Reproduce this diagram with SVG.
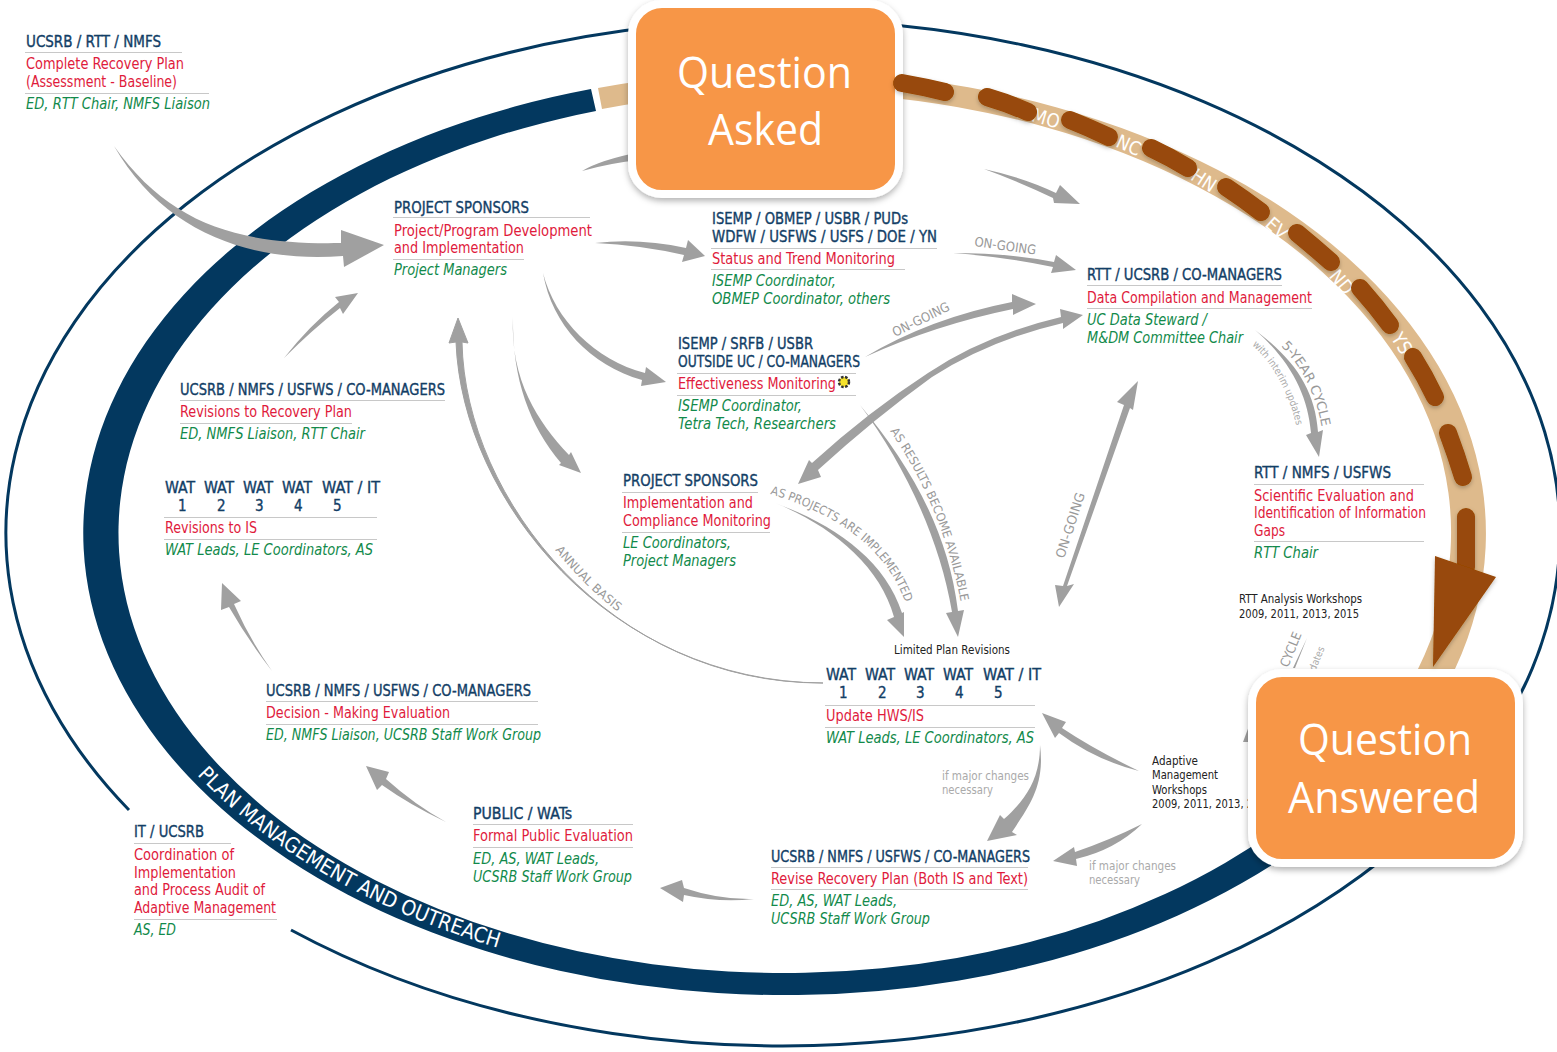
<svg xmlns="http://www.w3.org/2000/svg" width="1557" height="1052" viewBox="0 0 1557 1052">
<style>
text{font-family:"DejaVu Sans","Liberation Sans",sans-serif;font-stretch:condensed}
.h{font-size:15px;fill:#123e66;stroke:#123e66;stroke-width:.35px}
.r{font-size:15px;fill:#e01b3c}
.g{font-size:15px;fill:#128a4b;font-style:italic}
.h,.r,.g{transform:translateY(.3px)}
.k{font-size:12px;fill:#222}
.m{font-size:12px;fill:#aaa}
.l{font-size:13px;fill:#999}
.s{font-size:10px;fill:#aaa}
.c{font-size:12px;fill:#999}
.t{font-size:19px;fill:#fff;text-anchor:middle;dominant-baseline:central}
.q{font-family:"Open Sans","Noto Sans",sans-serif;font-stretch:normal;font-size:44px;fill:#fff}
.rule{stroke:#c8c8c8;stroke-width:1;fill:none}
.a{fill:#a0a0a0;stroke:none}
.d{fill:none;stroke:#984807;stroke-width:18;stroke-linecap:round}
.box{fill:#f79646;stroke:#fff;stroke-width:8}
</style>
<defs>
<filter id="sh" x="-10%" y="-10%" width="120%" height="125%"><feDropShadow dx="0" dy="3" stdDeviation="3" flood-color="#000" flood-opacity=".3"/></filter>
<filter id="sh2" x="-30%" y="-30%" width="160%" height="160%"><feDropShadow dx="0" dy="2" stdDeviation="2" flood-color="#000" flood-opacity=".25"/></filter>
<path id="p-plan" d="M197,775A694 456 0 0 0 560,964"/>
<path id="p-5y" d="M1281,346Q1313,378 1322,428L1328,460"/>
<path id="p-int" d="M1252,345Q1285,375 1297,428L1302,450"/>
<path id="p-res" d="M890,431Q942,505 961,603L966,640"/>
<path id="p-prj" d="M770,494Q878,526 905,602L912,640"/>
<path id="p-ann" d="M555,550Q585,587 622,615L640,628"/>
</defs>
<rect width="1557" height="1052" fill="#fff"/>

<g id="bands">
<path d="M129,810A777 513 0 1 1 291,930" fill="none" stroke="#03385f" stroke-width="3"/>
<path d="M591,89A701 462 0 1 0 1300,846L1280,827A666 440 0 1 1 596,111Z" fill="#03385f"/>
<path d="M598,88A701 462 0 0 1 1455,669L1418,669A666 440 0 0 0 602,109Z" fill="#deba8c"/>
<g id="band-letters">
<text transform="translate(1046,118) rotate(16)" class="t">MO</text>
<text transform="translate(1129,145) rotate(24)" class="t">NC</text>
<text transform="translate(1204,180) rotate(33)" class="t">HN</text>
<text transform="translate(1277,228) rotate(42)" class="t">EV</text>
<text transform="translate(1342,282) rotate(50)" class="t">ND</text>
<text transform="translate(1402,343) rotate(58)" class="t">YS</text>
</g>
<text fill="#fff" style="font-size:21px"><textPath href="#p-plan">PLAN MANAGEMENT AND OUTREACH</textPath></text>
</g>

<g id="connectors">
<path class="a" d="M114,146C170,225 240,245 341,243L341,230L384,245L344,267L343,256C255,263 165,235 114,146Z"/>
<path class="a" d="M284,358Q310,325 339,302L335,297L358,293L343,314L340,308Q312,330 284,358Z"/>
<path class="a" d="M582,171Q600,160 640,152L640,160Q610,163 582,171Z"/>
<path class="a" d="M984,169Q1025,178 1056,193L1060,185L1080,204L1054,203L1053,198Q1020,182 984,169Z"/>
<path class="a" d="M595,243Q640,238 686,248L688,240L705,256L682,262L684,255Q640,245 595,243Z"/>
<path class="a" d="M953,253Q1010,253 1054,262L1056,255L1076,270L1051,273L1053,267Q1005,257 953,253Z"/>
<path class="a" d="M865,357Q930,318 1012,302L1012,294L1036,304L1013,315L1013,309Q935,325 865,357Z"/>
<path class="a" d="M1083,315L1060,309L1061,317Q985,335 928,373Q868,412 812,463L809,460L798,484L821,477L818,470Q875,418 932,377Q990,340 1063,323L1063,329Z"/>
<path class="a" d="M860,405C905,465 940,540 952,612L946,613L958,637L964,610L958,611C948,530 910,465 860,405Z"/>
<path class="a" d="M775,503C830,525 880,565 894,617L887,620L904,637L904,612L902,613C885,560 835,525 775,503Z"/>
<path class="a" style="stroke:#a0a0a0;stroke-width:1" d="M458,318L449,343L456,342C462,500 610,682 823,683C612,684 465,500 462,342L468,343Z"/>
<path class="a" d="M1255,330C1290,360 1308,395 1311,433L1306,435L1319,457L1323,430L1318,432C1315,390 1295,360 1255,330Z"/>
<path class="a" d="M1138,381L1117,402L1124,405L1063,586L1055,585L1059,607L1074,584L1067,586L1130,408L1133,410Z"/>
<path class="a" d="M272,671Q248,640 229,607L221,610L222,583L241,601L234,604Q250,640 272,671Z"/>
<path class="a" d="M446,822Q415,805 386,779L389,772L366,766L377,790L382,785Q410,805 446,822Z"/>
<path class="a" d="M754,899Q720,900 684,888L682,880L660,888L683,902L684,895Q720,903 754,899Z"/>
<path class="a" d="M1040,745C1045,785 1030,805 1012,832L1017,835L987,841L1000,815L1004,819C1025,800 1040,780 1040,745Z"/>
<path class="a" d="M1139,771Q1095,750 1062,728L1066,722L1042,713L1055,738L1059,733Q1095,760 1139,771Z"/>
<path class="a" d="M1142,824Q1110,840 1075,852L1074,847L1053,861L1077,866L1076,859Q1115,850 1142,824Z"/>
<path class="a" d="M543,273C555,320 595,360 645,373L646,367L666,382L641,386L642,380C590,365 552,325 543,273Z"/>
<path class="a" d="M513,317C510,380 538,422 569,455L571,452L581,473L559,465L561,463C530,426 512,380 513,317Z"/>
<path class="a" d="M1307,638L1293,668L1295,668Z"/>
<path class="a" d="M1243,742L1249,726L1252,742Z"/>
<text class="l" transform="translate(974,246) rotate(8)" textLength="62" lengthAdjust="spacingAndGlyphs">ON-GOING</text>
<text class="l" transform="translate(895,337) rotate(-26)" textLength="62" lengthAdjust="spacingAndGlyphs">ON-GOING</text>
<text class="l" transform="translate(1064,559) rotate(-72)" textLength="68" lengthAdjust="spacingAndGlyphs">ON-GOING</text>
<text class="l" textLength="92" lengthAdjust="spacingAndGlyphs"><textPath href="#p-5y">5-YEAR CYCLE</textPath></text>
<text class="s"><textPath href="#p-int">with interim updates</textPath></text>
<text class="c" textLength="186" lengthAdjust="spacingAndGlyphs"><textPath href="#p-res">AS RESULTS BECOME AVAILABLE</textPath></text>
<text class="c" textLength="180" lengthAdjust="spacingAndGlyphs"><textPath href="#p-prj">AS PROJECTS ARE IMPLEMENTED</textPath></text>
<text class="c" textLength="88" lengthAdjust="spacingAndGlyphs"><textPath href="#p-ann">ANNUAL BASIS</textPath></text>
<text class="l" transform="translate(1288,668) rotate(-68)">CYCLE</text>
<text class="s" transform="translate(1311,682) rotate(-68)">updates</text>
<text class="m" x="942" y="780" textLength="87" lengthAdjust="spacingAndGlyphs">if major changes</text>
<text class="m" x="942" y="794" textLength="51" lengthAdjust="spacingAndGlyphs">necessary</text>
<text class="m" x="1089" y="870" textLength="87" lengthAdjust="spacingAndGlyphs">if major changes</text>
<text class="m" x="1089" y="884" textLength="51" lengthAdjust="spacingAndGlyphs">necessary</text>
</g>

<g id="node-complete-plan">
<text class="h" x="26" y="47" textLength="135" lengthAdjust="spacingAndGlyphs">UCSRB / RTT / NMFS</text>
<path class="rule" d="M25,52.500H182M25,93.500H209"/>
<text class="r" x="26" y="69" textLength="158" lengthAdjust="spacingAndGlyphs">Complete Recovery Plan</text>
<text class="r" x="26" y="87" textLength="151" lengthAdjust="spacingAndGlyphs">(Assessment - Baseline)</text>
<text class="g" x="26" y="109" textLength="184" lengthAdjust="spacingAndGlyphs">ED, RTT Chair, NMFS Liaison</text>
</g>
<g id="node-program-dev">
<text class="h" x="394" y="213" textLength="135" lengthAdjust="spacingAndGlyphs">PROJECT SPONSORS</text>
<path class="rule" d="M393,217.500H590M393,259.500H524"/>
<text class="r" x="394" y="235.500" textLength="198" lengthAdjust="spacingAndGlyphs">Project/Program Development</text>
<text class="r" x="394" y="253" textLength="130" lengthAdjust="spacingAndGlyphs">and Implementation</text>
<text class="g" x="394" y="275" textLength="113" lengthAdjust="spacingAndGlyphs">Project Managers</text>
</g>
<g id="node-status-trend">
<text class="h" x="712" y="224" textLength="196" lengthAdjust="spacingAndGlyphs">ISEMP / OBMEP / USBR / PUDs</text>
<text class="h" x="712" y="242" textLength="225" lengthAdjust="spacingAndGlyphs">WDFW / USFWS / USFS / DOE / YN</text>
<path class="rule" d="M711,248.500H937M711,269.500H905"/>
<text class="r" x="712" y="264" textLength="183" lengthAdjust="spacingAndGlyphs">Status and Trend Monitoring</text>
<text class="g" x="712" y="286" textLength="124" lengthAdjust="spacingAndGlyphs">ISEMP Coordinator,</text>
<text class="g" x="712" y="304" textLength="178" lengthAdjust="spacingAndGlyphs">OBMEP Coordinator, others</text>
</g>
<g id="node-data-compilation">
<text class="h" x="1087" y="280" textLength="195" lengthAdjust="spacingAndGlyphs">RTT / UCSRB / CO-MANAGERS</text>
<path class="rule" d="M1087,285.500H1282M1087,308.500H1312"/>
<text class="r" x="1087" y="302.500" textLength="225" lengthAdjust="spacingAndGlyphs">Data Compilation and Management</text>
<text class="g" x="1087" y="325" textLength="120" lengthAdjust="spacingAndGlyphs">UC Data Steward /</text>
<text class="g" x="1087" y="343" textLength="156" lengthAdjust="spacingAndGlyphs">M&amp;DM Committee Chair</text>
</g>
<g id="node-effectiveness">
<text class="h" x="678" y="349" textLength="135" lengthAdjust="spacingAndGlyphs">ISEMP / SRFB / USBR</text>
<text class="h" x="678" y="367" textLength="182" lengthAdjust="spacingAndGlyphs">OUTSIDE UC / CO-MANAGERS</text>
<path class="rule" d="M677,373.500H856M677,395.500H856"/>
<text class="r" x="678" y="389" textLength="158" lengthAdjust="spacingAndGlyphs">Effectiveness Monitoring</text>
<circle cx="844" cy="382" r="5" fill="#f6e32c" stroke="#333" stroke-width="2.500" stroke-dasharray="2.500 1.500"/>
<text class="g" x="678" y="411" textLength="124" lengthAdjust="spacingAndGlyphs">ISEMP Coordinator,</text>
<text class="g" x="678" y="429" textLength="158" lengthAdjust="spacingAndGlyphs">Tetra Tech, Researchers</text>
</g>
<g id="node-compliance">
<text class="h" x="623" y="486" textLength="135" lengthAdjust="spacingAndGlyphs">PROJECT SPONSORS</text>
<path class="rule" d="M622,492.500H758M622,532.500H770"/>
<text class="r" x="623" y="508" textLength="130" lengthAdjust="spacingAndGlyphs">Implementation and</text>
<text class="r" x="623" y="526" textLength="148" lengthAdjust="spacingAndGlyphs">Compliance Monitoring</text>
<text class="g" x="623" y="548" textLength="108" lengthAdjust="spacingAndGlyphs">LE Coordinators,</text>
<text class="g" x="623" y="566" textLength="113" lengthAdjust="spacingAndGlyphs">Project Managers</text>
</g>
<g id="node-revisions-plan">
<text class="h" x="180" y="395" textLength="265" lengthAdjust="spacingAndGlyphs">UCSRB / NMFS / USFWS / CO-MANAGERS</text>
<path class="rule" d="M180,400.500H445M180,423.500H352"/>
<text class="r" x="180" y="417" textLength="172" lengthAdjust="spacingAndGlyphs">Revisions to Recovery Plan</text>
<text class="g" x="180" y="439" textLength="185" lengthAdjust="spacingAndGlyphs">ED, NMFS Liaison, RTT Chair</text>
</g>
<g id="node-revisions-is">
<text class="h" x="165" y="493" textLength="30" lengthAdjust="spacingAndGlyphs">WAT</text><text class="h" x="204" y="493" textLength="30" lengthAdjust="spacingAndGlyphs">WAT</text><text class="h" x="243" y="493" textLength="30" lengthAdjust="spacingAndGlyphs">WAT</text><text class="h" x="282" y="493" textLength="30" lengthAdjust="spacingAndGlyphs">WAT</text><text class="h" x="322" y="493" textLength="58" lengthAdjust="spacingAndGlyphs">WAT / IT</text>
<text class="h" x="178" y="511">1</text><text class="h" x="217" y="511">2</text><text class="h" x="255" y="511">3</text><text class="h" x="294" y="511">4</text><text class="h" x="333" y="511">5</text>
<path class="rule" d="M164,517.500H377M164,539.500H377"/>
<text class="r" x="165" y="533" textLength="92" lengthAdjust="spacingAndGlyphs">Revisions to IS</text>
<text class="g" x="165" y="555" textLength="208" lengthAdjust="spacingAndGlyphs">WAT Leads, LE Coordinators, AS</text>
</g>
<g id="node-decision">
<text class="h" x="266" y="696" textLength="265" lengthAdjust="spacingAndGlyphs">UCSRB / NMFS / USFWS / CO-MANAGERS</text>
<path class="rule" d="M266,701.500H538M266,724.500H538"/>
<text class="r" x="266" y="718" textLength="184" lengthAdjust="spacingAndGlyphs">Decision - Making Evaluation</text>
<text class="g" x="266" y="740" textLength="275" lengthAdjust="spacingAndGlyphs">ED, NMFS Liaison, UCSRB Staff Work Group</text>
</g>
<g id="node-public">
<text class="h" x="473" y="819" textLength="99" lengthAdjust="spacingAndGlyphs">PUBLIC / WATs</text>
<path class="rule" d="M473,824.500H633M473,847.500H633"/>
<text class="r" x="473" y="841" textLength="160" lengthAdjust="spacingAndGlyphs">Formal Public Evaluation</text>
<text class="g" x="473" y="864" textLength="126" lengthAdjust="spacingAndGlyphs">ED, AS, WAT Leads,</text>
<text class="g" x="473" y="882" textLength="159" lengthAdjust="spacingAndGlyphs">UCSRB Staff Work Group</text>
</g>
<g id="node-coordination">
<text class="h" x="134" y="837" textLength="70" lengthAdjust="spacingAndGlyphs">IT / UCSRB</text>
<path class="rule" d="M134,843.500H231M134,919.500H277"/>
<text class="r" x="134" y="860" textLength="100" lengthAdjust="spacingAndGlyphs">Coordination of</text>
<text class="r" x="134" y="878" textLength="102" lengthAdjust="spacingAndGlyphs">Implementation</text>
<text class="r" x="134" y="895" textLength="131" lengthAdjust="spacingAndGlyphs">and Process Audit of</text>
<text class="r" x="134" y="913" textLength="142" lengthAdjust="spacingAndGlyphs">Adaptive Management</text>
<text class="g" x="134" y="935" textLength="42" lengthAdjust="spacingAndGlyphs">AS, ED</text>
</g>
<g id="node-update-hws">
<text class="k" x="894" y="654" textLength="116" lengthAdjust="spacingAndGlyphs">Limited Plan Revisions</text>
<text class="h" x="826" y="680" textLength="30" lengthAdjust="spacingAndGlyphs">WAT</text><text class="h" x="865" y="680" textLength="30" lengthAdjust="spacingAndGlyphs">WAT</text><text class="h" x="904" y="680" textLength="30" lengthAdjust="spacingAndGlyphs">WAT</text><text class="h" x="943" y="680" textLength="30" lengthAdjust="spacingAndGlyphs">WAT</text><text class="h" x="983" y="680" textLength="58" lengthAdjust="spacingAndGlyphs">WAT / IT</text>
<text class="h" x="839" y="698">1</text><text class="h" x="878" y="698">2</text><text class="h" x="916" y="698">3</text><text class="h" x="955" y="698">4</text><text class="h" x="994" y="698">5</text>
<path class="rule" d="M825,705.500H1035M825,727.500H1035"/>
<text class="r" x="826" y="721" textLength="98" lengthAdjust="spacingAndGlyphs">Update HWS/IS</text>
<text class="g" x="826" y="743" textLength="208" lengthAdjust="spacingAndGlyphs">WAT Leads, LE Coordinators, AS</text>
</g>
<g id="node-revise-plan">
<text class="h" x="771" y="862" textLength="259" lengthAdjust="spacingAndGlyphs">UCSRB / NMFS / USFWS / CO-MANAGERS</text>
<path class="rule" d="M771,867.500H1028M771,889.500H1028"/>
<text class="r" x="771" y="884" textLength="257" lengthAdjust="spacingAndGlyphs">Revise Recovery Plan (Both IS and Text)</text>
<text class="g" x="771" y="906" textLength="126" lengthAdjust="spacingAndGlyphs">ED, AS, WAT Leads,</text>
<text class="g" x="771" y="924" textLength="159" lengthAdjust="spacingAndGlyphs">UCSRB Staff Work Group</text>
</g>
<g id="node-scientific">
<text class="h" x="1254" y="478" textLength="137" lengthAdjust="spacingAndGlyphs">RTT / NMFS / USFWS</text>
<path class="rule" d="M1254,484.500H1424M1254,541.500H1424"/>
<text class="r" x="1254" y="501" textLength="160" lengthAdjust="spacingAndGlyphs">Scientific Evaluation and</text>
<text class="r" x="1254" y="518" textLength="172" lengthAdjust="spacingAndGlyphs">Identification of Information</text>
<text class="r" x="1254" y="536" textLength="31" lengthAdjust="spacingAndGlyphs">Gaps</text>
<text class="g" x="1254" y="558" textLength="64" lengthAdjust="spacingAndGlyphs">RTT Chair</text>
</g>
<g id="node-rtt-workshops">
<text class="k" x="1239" y="603" textLength="123" lengthAdjust="spacingAndGlyphs">RTT Analysis Workshops</text>
<text class="k" x="1239" y="618" textLength="120" lengthAdjust="spacingAndGlyphs">2009, 2011, 2013, 2015</text>
</g>
<g id="node-am-workshops">
<text class="k" x="1152" y="765" textLength="46" lengthAdjust="spacingAndGlyphs">Adaptive</text>
<text class="k" x="1152" y="779" textLength="66" lengthAdjust="spacingAndGlyphs">Management</text>
<text class="k" x="1152" y="794" textLength="55" lengthAdjust="spacingAndGlyphs">Workshops</text>
<text class="k" x="1152" y="808" textLength="120" lengthAdjust="spacingAndGlyphs">2009, 2011, 2013, 2015</text>
</g>

<g id="node-question-asked">
<rect class="box" x="632" y="4" width="267" height="190" rx="30" filter="url(#sh)"/>
<text class="q" x="677" y="88" textLength="175" lengthAdjust="spacingAndGlyphs">Question</text>
<text class="q" x="708" y="145" textLength="115" lengthAdjust="spacingAndGlyphs">Asked</text>
</g>
<g id="node-question-answered">
<rect class="box" x="1252" y="673" width="267" height="190" rx="30" filter="url(#sh)"/>
<text class="q" x="1298" y="755" textLength="174" lengthAdjust="spacingAndGlyphs">Question</text>
<text class="q" x="1288" y="813" textLength="192" lengthAdjust="spacingAndGlyphs">Answered</text>
</g>

<g id="dashes" filter="url(#sh2)">
<path class="d" d="M902,83Q925,87 945,92"/>
<path class="d" d="M987,97Q1008,103 1028,112"/>
<path class="d" d="M1070,120Q1090,128 1109,137"/>
<path class="d" d="M1151,148Q1170,157 1188,168"/>
<path class="d" d="M1226,187Q1244,199 1261,212"/>
<path class="d" d="M1297,233Q1314,247 1331,262"/>
<path class="d" d="M1360,288Q1376,306 1390,325"/>
<path class="d" d="M1413,357Q1425,376 1435,397"/>
<path class="d" d="M1448,433Q1456,454 1463,477"/>
<path class="d" d="M1466,517V567"/>
<path d="M1435,556L1496,577L1433,667Z" fill="#984807"/>
</g>
</svg>
